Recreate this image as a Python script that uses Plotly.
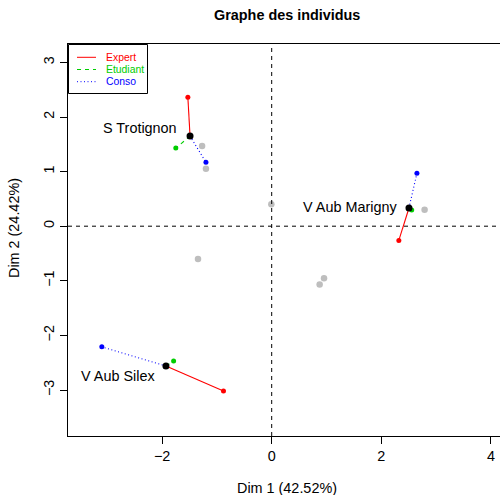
import plotly.graph_objects as go

# ---------------- data ----------------
individuals = ["S Trotignon", "V Aub Marigny", "V Aub Silex"]
center_x = [-1.49, 2.505, -1.93]
center_y = [1.65, 0.333, -2.56]
expert_x = [-1.53, 2.32, -0.88]
expert_y = [2.36, -0.26, -3.02]
etudiant_x = [-1.75, 2.555, -1.79]
etudiant_y = [1.43, 0.297, -2.47]
conso_x = [-1.20, 2.65, -3.10]
conso_y = [1.17, 0.97, -2.21]
other_x = [-1.27, -1.20, 2.79, 0.955, 0.875, -0.007, -1.345]
other_y = [1.47, 1.05, 0.30, -0.955, -1.07, 0.40, -0.60]
groups = ["Expert", "Etudiant", "Conso"]
x_ticks = [-2, 0, 2, 4]
y_ticks = [-3, -2, -1, 0, 1, 2, 3]
title = "Graphe des individus"
x_title = "Dim 1 (42.52%)"
y_title = "Dim 2 (24.42%)"

# ---------------- style ----------------
FONT = "Liberation Sans, Arial, Helvetica, sans-serif"
FS = 14.4
W, H = 500, 495
ML, MR, MT, MB = 68, 0, 44, 59
PW, PH = W - ML - MR, H - MT - MB
colors = {"Expert": "#FF0000", "Etudiant": "#00CD00", "Conso": "#0000FF"}
dashes = {"Expert": "solid", "Etudiant": "4px,4px", "Conso": "1px,2.5px"}
group_x = {"Expert": expert_x, "Etudiant": etudiant_x, "Conso": conso_x}
group_y = {"Expert": expert_y, "Etudiant": etudiant_y, "Conso": conso_y}

def px(X):
    return (X - ML) / PW

def py(Y):
    return (H - MB - Y) / PH

fig = go.Figure()

# grey points
fig.add_trace(go.Scatter(x=other_x, y=other_y, mode="markers",
                         marker=dict(color="#BEBEBE", size=6.5), showlegend=False,
                         hoverinfo="skip"))

# segments center -> partial points
for g in groups:
    for i in range(len(individuals)):
        fig.add_trace(go.Scatter(
            x=[center_x[i], group_x[g][i]], y=[center_y[i], group_y[g][i]],
            mode="lines", line=dict(color=colors[g], width=1.1, dash=dashes[g]),
            showlegend=False, hoverinfo="skip"))
    fig.add_trace(go.Scatter(x=group_x[g], y=group_y[g], mode="markers",
                             marker=dict(color=colors[g], size=5),
                             showlegend=False, hoverinfo="skip"))

# centers
fig.add_trace(go.Scatter(x=center_x, y=center_y, mode="markers",
                         marker=dict(color="black", size=7), showlegend=False,
                         hoverinfo="skip"))

# labels
shifts = [(-11, 8), (-10, 1), (-9, -10)]
for i, name in enumerate(individuals):
    fig.add_annotation(x=center_x[i], y=center_y[i], text=name, showarrow=False,
                       xanchor="right", yanchor="middle",
                       xshift=shifts[i][0], yshift=shifts[i][1],
                       font=dict(family=FONT, size=FS, color="black"))

# zero reference lines
fig.add_shape(type="line", xref="x", yref="paper", x0=0, x1=0, y0=0, y1=1,
              line=dict(color="black", width=1, dash="4px,4px"))
fig.add_shape(type="line", xref="paper", yref="y", x0=0, x1=1, y0=0, y1=0,
              line=dict(color="black", width=1, dash="4px,4px"))

# legend box (manual, R style)
fig.add_shape(type="rect", xref="paper", yref="paper",
              x0=px(68.5), x1=px(147.5), y0=py(93.5), y1=py(44.5),
              line=dict(color="black", width=1), fillcolor="white", layer="above")
leg_y = [57.3, 69.5, 81.7]
for g, yy in zip(groups, leg_y):
    fig.add_shape(type="line", xref="paper", yref="paper",
                  x0=px(77), x1=px(96), y0=py(yy), y1=py(yy),
                  line=dict(color=colors[g], width=1, dash=dashes[g]), layer="above")
    fig.add_annotation(xref="paper", yref="paper", x=px(104), y=py(yy), text=g,
                       showarrow=False, xanchor="left", yanchor="middle",
                       font=dict(family=FONT, size=10.4, color=colors[g]))

# title and axis titles
fig.add_annotation(xref="paper", yref="paper", x=px(287), y=py(15), text="<b>%s</b>" % title,
                   showarrow=False, xanchor="center", yanchor="middle",
                   font=dict(family=FONT, size=FS, color="black"))
fig.add_annotation(xref="paper", yref="paper", x=px(287), y=py(488), text=x_title,
                   showarrow=False, xanchor="center", yanchor="middle",
                   font=dict(family=FONT, size=FS, color="black"))
fig.add_annotation(xref="paper", yref="paper", x=px(14), y=py(228), text=y_title,
                   showarrow=False, xanchor="center", yanchor="middle", textangle=-90,
                   font=dict(family=FONT, size=FS, color="black"))

x0, sx = 271.7, 54.8
y0, sy = 226.2, 54.6
fig.update_layout(
    width=W, height=H,
    margin=dict(l=ML, r=MR, t=MT, b=MB),
    paper_bgcolor="white", plot_bgcolor="white",
    font=dict(family=FONT, size=FS, color="black"),
    showlegend=False,
    xaxis=dict(range=[(ML - x0) / sx, (W - MR - x0) / sx], tickvals=x_ticks,
               ticktext=[("\u2212%d" % -v) if v < 0 else str(v) for v in x_ticks],
               showgrid=False, zeroline=False, showline=True, linecolor="black",
               linewidth=1, mirror=True, ticks="outside", ticklen=7, tickcolor="black",
               tickfont=dict(family=FONT, size=FS, color="black"), fixedrange=True),
    yaxis=dict(range=[(y0 - (H - MB)) / sy, (y0 - MT) / sy], tickvals=y_ticks,
               ticktext=[("\u2212%d" % -v) if v < 0 else str(v) for v in y_ticks],
               showgrid=False, zeroline=False, showline=True, linecolor="black",
               linewidth=1, mirror=False, ticks="outside", ticklen=7, tickcolor="black",
               tickangle=-90,
               tickfont=dict(family=FONT, size=FS, color="black"), fixedrange=True),
)

fig.write_html("out.html", config={"displayModeBar": False})
